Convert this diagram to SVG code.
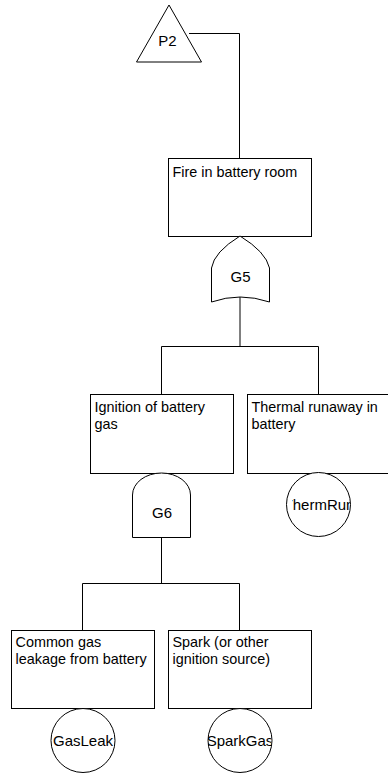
<svg xmlns="http://www.w3.org/2000/svg" width="388" height="776" viewBox="0 0 388 776">
<style>
.shape{fill:#fff;stroke:#000;stroke-width:1}
.conn{fill:none;stroke:#000;stroke-width:1}
.t{font-family:"Liberation Sans",Arial,sans-serif;font-size:14.4px;fill:#000}
.c{font-family:"Liberation Sans",Arial,sans-serif;font-size:15px;fill:#000;text-anchor:middle}
</style>
<defs>
<clipPath id="clipTR"><rect x="292" y="472" width="58" height="64"/></clipPath>
<clipPath id="clipGL"><rect x="52" y="709" width="62" height="64"/></clipPath>
<clipPath id="clipSG"><rect x="208" y="709" width="63" height="64"/></clipPath>
</defs>
<rect width="388" height="776" fill="#fff"/>
<g id="connectors">
<polyline class="conn" points="189,33.5 239.5,33.5 239.5,158.5"/>
<line class="conn" x1="240" y1="297" x2="240" y2="346.5"/>
<polyline class="conn" points="161.5,394 161.5,346.5 318.5,346.5 318.5,394"/>
<line class="conn" x1="161.5" y1="537" x2="161.5" y2="583.5"/>
<polyline class="conn" points="82.5,630 82.5,583.5 239.5,583.5 239.5,630"/>
</g>
<g id="P2">
<polygon class="shape" points="169,5 201.5,62 136.5,62"/>
<text class="c" x="167.5" y="46">P2</text>
</g>
<g id="Fire">
<rect class="shape" x="168.5" y="158.5" width="143" height="78"/>
<text class="t" x="172.5" y="176.5">Fire in battery room</text>
</g>
<g id="G5">
<path class="shape" d="M211.5,302 V268 Q214,252 240,236 Q266,252 269.5,268 V302 Q240,292 211.5,302 Z"/>
<text class="c" x="240.5" y="282">G5</text>
</g>
<g id="Ignition">
<rect class="shape" x="90.5" y="394.5" width="143" height="79"/>
<text class="t" x="94.5" y="411.5">Ignition of battery</text>
<text class="t" x="94.5" y="428.5">gas</text>
</g>
<g id="Thermal">
<rect class="shape" x="247.5" y="394.5" width="143" height="79"/>
<text class="t" x="251.5" y="411.5">Thermal runaway in</text>
<text class="t" x="251.5" y="428.5">battery</text>
</g>
<g id="G6">
<path class="shape" d="M132.5,537.5 V495 A29,22 0 0 1 190.5,495 V537.5 Z"/>
<text class="c" x="162" y="518">G6</text>
</g>
<g id="ThermRun">
<circle class="shape" cx="318.5" cy="504.5" r="32"/>
<text class="c" x="319" y="509.5" clip-path="url(#clipTR)">ThermRun</text>
</g>
<g id="Common">
<rect class="shape" x="11.5" y="630.5" width="143" height="78"/>
<text class="t" x="15.5" y="647">Common gas</text>
<text class="t" x="15.5" y="664">leakage from battery</text>
</g>
<g id="Spark">
<rect class="shape" x="168.5" y="630.5" width="143" height="78"/>
<text class="t" x="172.5" y="647">Spark (or other</text>
<text class="t" x="172.5" y="664">ignition source)</text>
</g>
<g id="GasLeak">
<circle class="shape" cx="83" cy="740.5" r="32"/>
<text class="c" x="83" y="746" clip-path="url(#clipGL)">GasLeak</text>
</g>
<g id="SparkGas">
<circle class="shape" cx="240" cy="740.5" r="32"/>
<text class="c" x="240" y="746" clip-path="url(#clipSG)">SparkGas</text>
</g>
</svg>
